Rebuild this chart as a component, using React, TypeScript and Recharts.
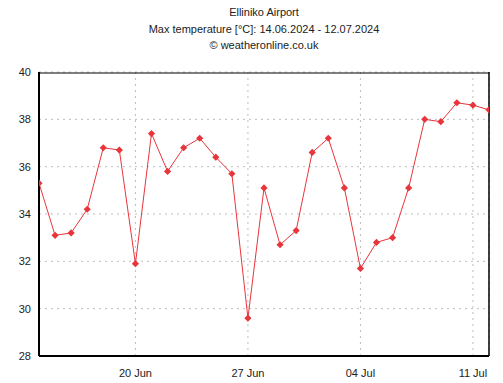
import { LineChart, Line, XAxis, YAxis, CartesianGrid } from 'recharts'

// days since 14.06.2024
const days = Array.from({ length: 29 }, (_, i) => i)
const maxTemp = [
    35.3, 33.1, 33.2, 34.2, 36.8, 36.7, 31.9, 37.4, 35.8, 36.8,
    37.2, 36.4, 35.7, 29.6, 35.1, 32.7, 33.3, 36.6, 37.2, 35.1,
    31.7, 32.8, 33.0, 35.1, 38.0, 37.9, 38.7, 38.6, 38.4,
]
const majorDays = [6, 13, 20, 27]
const majorLabels = ['20 Jun', '27 Jun', '04 Jul', '11 Jul']
const tempTicks = [28, 30, 32, 34, 36, 38, 40]
const titleLines = ['Elliniko Airport', 'Max temperature [°C]: 14.06.2024 - 12.07.2024', '© weatheronline.co.uk']

const data = days.map((d, i) => ({ day: d, temp: maxTemp[i] }))

const font = '"Liberation Sans", Arial, sans-serif'
const red = '#e8353b'

const Diamond = (props: any) => {
    const { cx, cy, index } = props
    if (cx == null || cy == null) return null
    const r = 3.6
    return (
        <polygon
            key={index}
            points={`${cx},${cy - r} ${cx + r},${cy} ${cx},${cy + r} ${cx - r},${cy}`}
            fill={red}
        />
    )
}

// invisible series so the frame/tick axes get registered
const axisPairs = [
    ['minorB', 'tickL'],
    ['majorB', 'tickR'],
    ['minorT', 'tickL'],
    ['majorT', 'tickR'],
]

const App = () => {
    return (
        <div style={{ position: 'absolute', left: 0, top: 0, width: 503, height: 383, fontFamily: font }}>
            {titleLines.map((t, i) => (
                <div
                    key={t}
                    style={{
                        position: 'absolute',
                        left: 164,
                        width: 200,
                        top: 6 + i * 16.5,
                        fontSize: 11,
                        color: '#222',
                        whiteSpace: 'nowrap',
                        display: 'flex',
                        justifyContent: 'center',
                    }}
                >
                    {t}
                </div>
            ))}
            <LineChart
                width={503}
                height={383}
                data={data}
                margin={{ top: 72, right: 14, bottom: 0, left: 0 }}
            >
                <CartesianGrid stroke="#bdbdbd" strokeDasharray="2 4" />
                <XAxis
                    dataKey="day"
                    type="number"
                    domain={[0, 28]}
                    allowDataOverflow
                    ticks={majorDays}
                    tickFormatter={(v: number) => majorLabels[majorDays.indexOf(v)]}
                    tickLine={false}
                    tickSize={6}
                    tickMargin={7}
                    height={27}
                    stroke="#000"
                    axisLine={{ stroke: '#000', strokeWidth: 2 }}
                    tick={{ fill: '#222', fontSize: 11, fontFamily: font }}
                />
                <XAxis xAxisId="minorB" dataKey="day" type="number" domain={[0, 28]} allowDataOverflow ticks={days}
                    orientation="bottom" mirror height={1} tick={false} tickSize={4} axisLine={false} stroke="#000" />
                <XAxis xAxisId="majorB" dataKey="day" type="number" domain={[0, 28]} allowDataOverflow ticks={majorDays}
                    orientation="bottom" mirror height={1} tick={false} tickSize={7} axisLine={false} stroke="#000" />
                <XAxis xAxisId="minorT" dataKey="day" type="number" domain={[0, 28]} allowDataOverflow ticks={days}
                    orientation="top" mirror height={1} tick={false} tickSize={4} stroke="#000" />
                <XAxis xAxisId="majorT" dataKey="day" type="number" domain={[0, 28]} allowDataOverflow ticks={majorDays}
                    orientation="top" mirror height={1} tick={false} tickSize={7} axisLine={false} stroke="#000" />
                <YAxis
                    domain={[28, 40]}
                    allowDataOverflow
                    ticks={tempTicks}
                    tickLine={false}
                    width={39}
                    stroke="#000"
                    axisLine={{ stroke: '#000', strokeWidth: 2 }}
                    tick={{ fill: '#222', fontSize: 11, fontFamily: font }}
                />
                <YAxis yAxisId="tickL" domain={[28, 40]} allowDataOverflow ticks={tempTicks}
                    orientation="left" mirror width={1} tick={false} tickSize={7} axisLine={false} stroke="#000" />
                <YAxis yAxisId="tickR" domain={[28, 40]} allowDataOverflow ticks={tempTicks}
                    orientation="right" mirror width={1} tick={false} tickSize={7} stroke="#000"
                    axisLine={{ stroke: '#000', strokeWidth: 1.5 }} />
                {axisPairs.map(([xa, ya]) => (
                    <Line
                        key={xa}
                        xAxisId={xa}
                        yAxisId={ya}
                        dataKey="temp"
                        stroke="none"
                        dot={false}
                        activeDot={false}
                        legendType="none"
                        isAnimationActive={false}
                    />
                ))}
                <Line
                    dataKey="temp"
                    stroke={red}
                    strokeWidth={1}
                    dot={<Diamond />}
                    activeDot={false}
                    isAnimationActive={false}
                />
            </LineChart>
        </div>
    )
}

export default App
